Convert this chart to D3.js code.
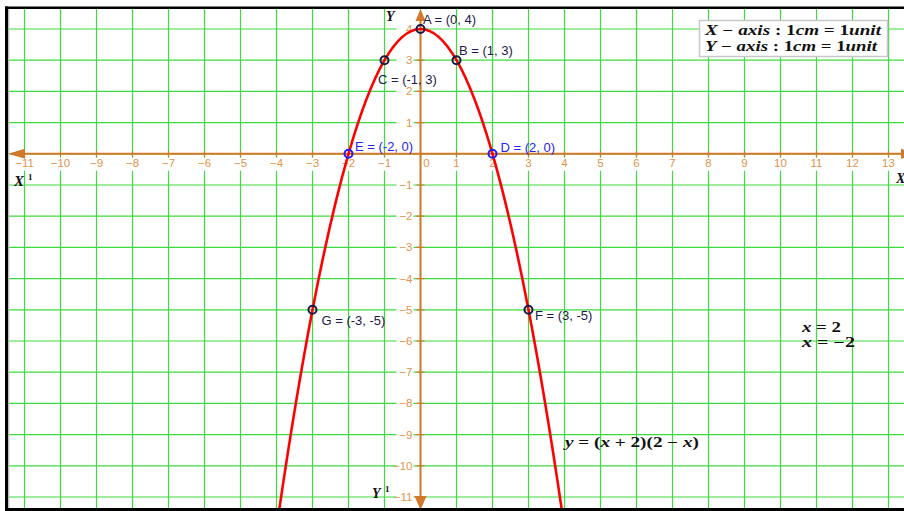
<!DOCTYPE html>
<html>
<head>
<meta charset="utf-8">
<script src="https://cdn.jsdelivr.net/npm/d3@7"></script>
<style>
  html, body { margin: 0; padding: 0; background: #fff; }
  svg { display: block; }
</style>
</head>
<body>
<svg width="904" height="511"></svg>
<script>
const width = 904;
const height = 511;

// tick labels on both axes
const xTicks = [-11, -10, -9, -8, -7, -6, -5, -4, -3, -2, -1, 0, 1, 2, 3, 4, 5, 6, 7, 8, 9, 10, 11, 12, 13];
const yTicks = [4, 3, 2, 1, -1, -2, -3, -4, -5, -6, -7, -8, -9, -10, -11];

// table of values for y = (x + 2)(2 - x)
const tableX = [-6, -5, -4, -3, -2, -1, 0, 1, 2, 3, 4, 5, 6];
const tableY = [-32, -21, -12, -5, 0, 3, 4, 3, 0, -5, -12, -21, -32];

// marked points
const pointNames = ["A", "B", "C", "D", "E", "F", "G"];
const pointX = [0, 1, -1, 2, -2, 3, -3];
const pointY = [4, 3, 3, 0, 0, -5, -5];

const labelOffset = {
  A: [2.5, -5.5], B: [2.5, -5.7], C: [-6.5, 24], D: [8, -2],
  E: [6.5, -3.2], F: [6.5, 10], G: [9, 15.5]
};
const bluePoints = ["D", "E"];

const svg = d3.select("svg");

const x = d3.scaleLinear().domain([-11, 13]).range([24.5, 888.5]);
const y = d3.scaleLinear().domain([4, -11]).range([29, 497]);

const gridColor = "#3ddc3d";
const axisColor = "#d2782a";
const tickColor = "#e0934c";
const inkColor = "#1a1a48";

svg.append("defs").append("clipPath").attr("id", "frame")
  .append("rect").attr("x", 8.5).attr("y", 9).attr("width", width - 8.5).attr("height", 499);

const plot = svg.append("g").attr("clip-path", "url(#frame)");

// grid
plot.append("g").selectAll("line")
  .data(xTicks)
  .enter().append("line")
  .attr("x1", d => x(d)).attr("x2", d => x(d))
  .attr("y1", 0).attr("y2", height)
  .attr("stroke", gridColor).attr("stroke-width", 1.2);

plot.append("g").selectAll("line")
  .data(yTicks.concat([0]))
  .enter().append("line")
  .attr("y1", d => y(d)).attr("y2", d => y(d))
  .attr("x1", 0).attr("x2", width)
  .attr("stroke", gridColor).attr("stroke-width", 1.2);

// white boxes behind tick labels
plot.append("g").selectAll("rect")
  .data(xTicks)
  .enter().append("rect")
  .attr("x", d => x(d) + (d === 0 ? 6 : 0) - 9)
  .attr("y", y(0) + 4)
  .attr("width", 18).attr("height", 13)
  .attr("fill", "#fff");

plot.append("g").selectAll("rect")
  .data(yTicks)
  .enter().append("rect")
  .attr("x", x(0) - 24)
  .attr("y", d => y(d) - 6)
  .attr("width", 17).attr("height", 12)
  .attr("fill", "#fff");

// axes
const axes = plot.append("g").attr("stroke", axisColor).attr("fill", axisColor);
axes.append("line")
  .attr("x1", 20).attr("x2", width)
  .attr("y1", y(0)).attr("y2", y(0))
  .attr("stroke-width", 2);
axes.append("line")
  .attr("x1", x(0)).attr("x2", x(0))
  .attr("y1", 18).attr("y2", 500)
  .attr("stroke-width", 2);

axes.append("g").selectAll("line")
  .data(xTicks)
  .enter().append("line")
  .attr("x1", d => x(d)).attr("x2", d => x(d))
  .attr("y1", y(0) - 3).attr("y2", y(0) + 3)
  .attr("stroke-width", 1.2);
axes.append("g").selectAll("line")
  .data(yTicks)
  .enter().append("line")
  .attr("y1", d => y(d)).attr("y2", d => y(d))
  .attr("x1", x(0) - 4).attr("x2", x(0) + 4)
  .attr("stroke-width", 1.2);

// arrow heads
const y0 = y(0), x0 = x(0);
axes.append("path").attr("stroke", "none")
  .attr("d", `M8,${y0} L25,${y0 - 5} L25,${y0 + 5} Z`);
axes.append("path").attr("stroke", "none")
  .attr("d", `M918,${y0} L901,${y0 - 5} L901,${y0 + 5} Z`);
axes.append("path").attr("stroke", "none")
  .attr("d", `M${x0},9 L${x0 - 5},21 L${x0 + 5},21 Z`);
axes.append("path").attr("stroke", "none")
  .attr("d", `M${x0},510 L${x0 - 6},496 L${x0 + 6},496 Z`);

// tick labels
const fmt = d => d < 0 ? "\u2212" + Math.abs(d) : String(d);
plot.append("g").selectAll("text")
  .data(xTicks)
  .enter().append("text")
  .attr("x", d => x(d) + (d === 0 ? 6 : 0))
  .attr("y", y(0) + 13.5)
  .attr("text-anchor", "middle")
  .attr("font-family", "Liberation Sans, Arial, sans-serif")
  .attr("font-size", 11.5)
  .attr("fill", tickColor)
  .text(fmt);

plot.append("g").selectAll("text")
  .data(yTicks)
  .enter().append("text")
  .attr("x", x(0) - 8)
  .attr("y", d => y(d) + 4)
  .attr("text-anchor", "end")
  .attr("font-family", "Liberation Sans, Arial, sans-serif")
  .attr("font-size", 11.5)
  .attr("fill", tickColor)
  .text(fmt);

// curve
const curve = d3.line()
  .x(d => x(d[0]))
  .y(d => y(d[1]))
  .curve(d3.curveNatural);

plot.append("path")
  .datum(tableX.map((v, i) => [v, tableY[i]]))
  .attr("d", curve)
  .attr("fill", "none")
  .attr("stroke", "#ff0000")
  .attr("stroke-width", 2.6);

// points and labels
const points = pointNames.map((n, i) => ({ name: n, x: pointX[i], y: pointY[i] }));

plot.append("g").selectAll("circle")
  .data(points)
  .enter().append("circle")
  .attr("cx", d => x(d.x))
  .attr("cy", d => y(d.y))
  .attr("r", 4)
  .attr("fill", "none")
  .attr("stroke", d => bluePoints.includes(d.name) ? "#2020f0" : inkColor)
  .attr("stroke-width", 2);

plot.append("g").selectAll("text")
  .data(points)
  .enter().append("text")
  .attr("x", d => x(d.x) + labelOffset[d.name][0])
  .attr("y", d => y(d.y) + labelOffset[d.name][1])
  .attr("font-family", "Liberation Sans, Arial, sans-serif")
  .attr("font-size", 13)
  .attr("fill", d => bluePoints.includes(d.name) ? "#2424f0" : inkColor)
  .text(d => `${d.name} = (${d.x}, ${d.y})`);

// math-style labels: [text, italic]
function mathText(g, px, py, parts, size, len) {
  const t = g.append("text")
    .attr("x", px).attr("y", py)
    .attr("font-family", "Liberation Serif, DejaVu Serif, serif")
    .attr("font-weight", "bold")
    .attr("font-size", size)
    .attr("fill", "#111");
  if (len) t.attr("textLength", len).attr("lengthAdjust", "spacingAndGlyphs");
  parts.forEach(p => {
    t.append("tspan")
      .attr("font-style", p[1] ? "italic" : "normal")
      .text(p[0]);
  });
  return t;
}

const notes = plot.append("g");
notes.append("rect")
  .attr("x", 699.5).attr("y", 20.5)
  .attr("width", 188).attr("height", 36)
  .attr("fill", "#fff")
  .attr("stroke", "#c8c8c8").attr("stroke-width", 1.5);

mathText(notes, 705, 35, [["X", 1], [" \u2212 ", 0], ["axis", 1], [" : 1", 0], ["cm", 1], [" = 1", 0], ["unit", 1]], 14, 176);
mathText(notes, 705, 51, [["Y", 1], [" \u2212 ", 0], ["axis", 1], [" : 1", 0], ["cm", 1], [" = 1", 0], ["unit", 1]], 14, 172);

mathText(notes, 802, 332, [["x", 1], [" = 2", 0]], 14, 39);
mathText(notes, 802, 347, [["x", 1], [" = \u22122", 0]], 14, 53);
mathText(notes, 565, 447, [["y", 1], [" = (", 0], ["x", 1], [" + 2)(2 \u2212 ", 0], ["x", 1], [")", 0]], 14, 134);

// axis names
mathText(notes, 386, 21, [["Y", 1]], 14);
mathText(notes, 896, 183, [["X", 1]], 14);
mathText(notes, 14, 186, [["X", 1]], 15);
mathText(notes, 28, 180, [["1", 0]], 9);
mathText(notes, 372, 498, [["Y", 1]], 14);
mathText(notes, 385, 492, [["1", 0]], 9);

// frame
const frame = svg.append("g").attr("stroke", "#000");
frame.append("line").attr("x1", 5).attr("x2", width).attr("y1", 7.8).attr("y2", 7.8).attr("stroke-width", 2.4);
frame.append("line").attr("x1", 6.6).attr("x2", 6.6).attr("y1", 6.6).attr("y2", height).attr("stroke-width", 3.2);
frame.append("line").attr("x1", 5).attr("x2", width).attr("y1", 509.5).attr("y2", 509.5).attr("stroke-width", 3);
frame.append("line").attr("x1", 8.8).attr("x2", 8.8).attr("y1", 9).attr("y2", 508)
  .attr("stroke", "#bbb").attr("stroke-width", 1);
</script>
</body>
</html>
